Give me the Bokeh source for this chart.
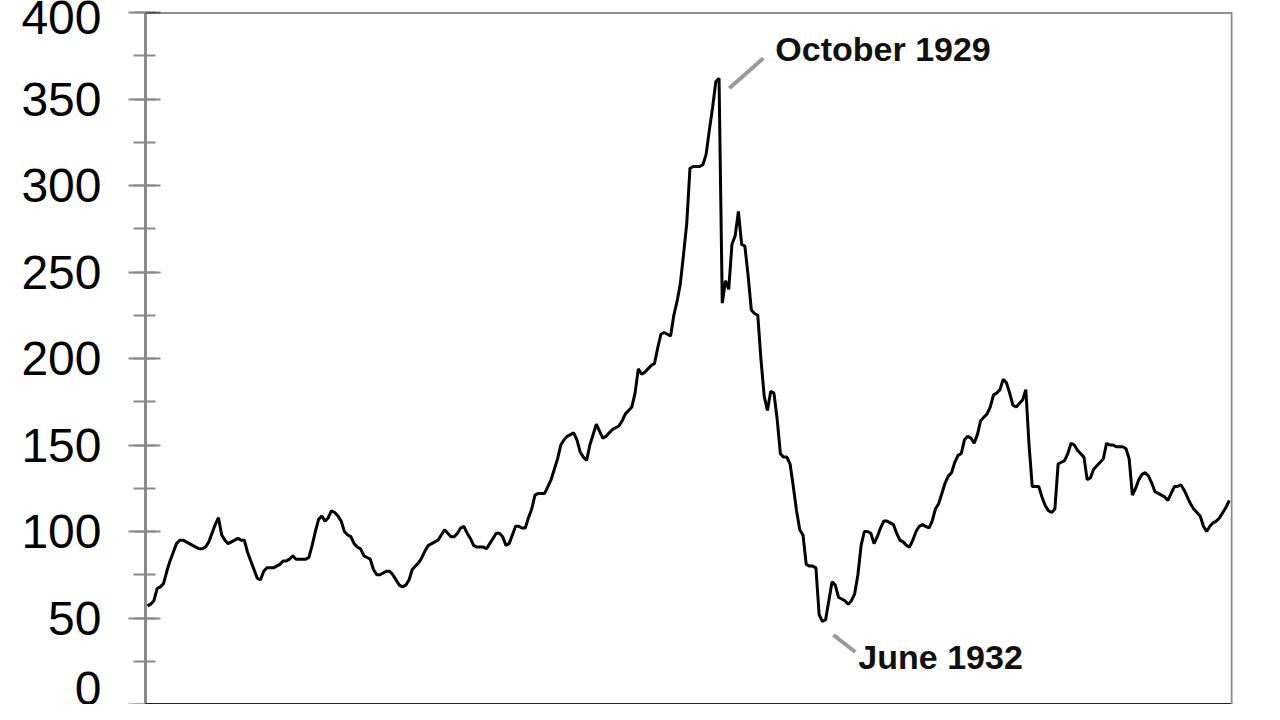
from bokeh.plotting import figure
from bokeh.models import Range1d, Span, SingleIntervalTicker, ColumnDataSource
from bokeh.core.properties import value
from bokeh.embed import file_html
from bokeh.resources import INLINE

# Monthly index values, January 1915 - December 1942
START_YEAR = 1915
y1915 = [57, 58, 60, 67, 68, 70, 77, 83, 88, 93, 95, 95]
y1916 = [94, 93, 92, 91, 90, 90, 91, 94, 99, 104, 108, 98]
y1917 = [95, 93, 94, 95, 96, 95, 95, 88, 83, 78, 73, 72]
y1918 = [77, 79, 79, 79, 80, 81, 83, 83, 84, 86, 84, 84]
y1919 = [84, 84, 85, 92, 100, 107, 109, 106, 108, 112, 111, 109]
y1920 = [106, 100, 98, 97, 93, 91, 90, 86, 85, 84, 78, 75]
y1921 = [75, 76, 77, 77, 75, 72, 69, 68, 69, 72, 78, 80]
y1922 = [82, 85, 89, 92, 93, 94, 95, 98, 101, 99, 97, 97]
y1923 = [99, 102, 103, 99, 96, 92, 91, 91, 91, 90, 93, 96]
y1924 = [99, 99, 97, 92, 93, 98, 103, 103, 102, 102, 108, 113]
y1925 = [121, 122, 122, 122, 126, 130, 136, 142, 150, 153, 155, 156]
y1926 = [157, 153, 146, 143, 141, 150, 156, 162, 158, 154, 155, 157]
y1927 = [159, 160, 161, 164, 168, 170, 172, 180, 194, 191, 192, 194]
y1928 = [196, 197, 206, 214, 215, 214, 213, 225, 233, 243, 260, 278]
y1929 = [310, 311, 311, 311, 312, 318, 332, 345, 360, 362, 232, 245]
y1930 = [240, 266, 271, 285, 266, 265, 248, 228, 226, 225, 199, 178]
y1931 = [170, 181, 180, 165, 145, 143, 143, 139, 126, 112, 101, 98]
y1932 = [81, 80, 80, 79, 52, 48, 49, 60, 71, 69, 62, 61]
y1933 = [60, 58, 60, 64, 75, 92, 100, 100, 99, 93, 97, 102]
y1934 = [106, 106, 105, 104, 99, 95, 94, 92, 91, 95, 100, 103]
y1935 = [104, 103, 102, 106, 113, 116, 122, 128, 132, 134, 140, 144]
y1936 = [145, 153, 155, 154, 151, 156, 164, 166, 168, 172, 179, 180]
y1937 = [182, 188, 186, 180, 173, 172, 174, 176, 182, 150, 126, 126]
y1938 = [126, 120, 115, 112, 111, 113, 139, 140, 141, 145, 151, 150]
y1939 = [147, 145, 143, 130, 131, 136, 138, 140, 142, 151, 150, 150]
y1940 = [149, 149, 149, 148, 142, 121, 125, 130, 133, 134, 132, 128]
y1941 = [123, 122, 121, 120, 118, 122, 126, 126, 127, 124, 120, 116]
y1942 = [113, 111, 109, 103, 100, 103, 105, 106, 108, 111, 114, 118]

yearly = [y1915, y1916, y1917, y1918, y1919, y1920, y1921, y1922, y1923, y1924,
          y1925, y1926, y1927, y1928, y1929, y1930, y1931, y1932, y1933, y1934,
          y1935, y1936, y1937, y1938, y1939, y1940, y1941, y1942]

# Annotations
ann_labels = ["October 1929", "June 1932"]
ann_year = [1929, 1932]
ann_month = [10, 6]

y_ticks_interval = 50
y_min, y_max = 0, 400

values = [v for yr in yearly for v in yr]
xs = [START_YEAR + i / 12 for i in range(len(values))]

W, H = 1264, 704
ML, MR, MT, MB = 145, 32, 12, 0
frame_w = W - ML - MR
frame_h = H - MT - MB
x0 = START_YEAR - 0.6 / 12
x1 = START_YEAR + 336 / 12
px_x = frame_w / (x1 - x0)
px_y = frame_h / (y_max - y_min)

p = figure(width=W, height=H, output_backend="svg", toolbar_location=None,
           x_range=Range1d(x0, x1), y_range=Range1d(y_min, y_max),
           x_axis_location=None,
           min_border_left=ML, min_border_right=MR,
           min_border_top=MT, min_border_bottom=MB)
p.outline_line_color = None
p.xgrid.visible = False
p.ygrid.visible = False
p.background_fill_color = "white"
p.border_fill_color = "white"

GRAY = "#8a8a8a"
ax = p.yaxis[0]
ax.ticker = SingleIntervalTicker(interval=y_ticks_interval, num_minor_ticks=2)
ax.axis_line_color = GRAY
ax.axis_line_width = 3
ax.major_tick_line_color = GRAY
ax.major_tick_line_width = 2
ax.minor_tick_line_color = GRAY
ax.minor_tick_line_width = 2
ax.major_tick_out = 17
ax.major_tick_in = 15
ax.minor_tick_out = 12
ax.minor_tick_in = 10
ax.major_label_text_font = "Liberation Sans"
ax.major_label_text_font_size = "48px"
ax.major_label_text_color = "black"
ax.major_label_standoff = 27

p.add_layout(Span(location=y_max, dimension="width", line_color="#222222", line_width=2))
p.add_layout(Span(location=y_min, dimension="width", line_color="#222222", line_width=3))
p.add_layout(Span(location=x1, dimension="height", line_color=GRAY, line_width=3.5))

p.line(xs, values, line_color="black", line_width=3)

# annotation leaders and labels, offsets in screen pixels from the anchor point
lead_start = [(10.3, -10.0), (11.0, -13.5)]
lead_end = [(44.3, 20.0), (33.0, -30.5)]
text_off = [(56.3, 29.0), (36.0, -35.5)]

ax_, ay_ = [], []
for yr, mo in zip(ann_year, ann_month):
    i = (yr - START_YEAR) * 12 + (mo - 1)
    ax_.append(xs[i])
    ay_.append(values[i])

seg = ColumnDataSource(dict(
    x0=[a + s[0] / px_x for a, s in zip(ax_, lead_start)],
    y0=[b + s[1] / px_y for b, s in zip(ay_, lead_start)],
    x1=[a + s[0] / px_x for a, s in zip(ax_, lead_end)],
    y1=[b + s[1] / px_y for b, s in zip(ay_, lead_end)],
))
p.segment(x0="x0", y0="y0", x1="x1", y1="y1", source=seg,
          line_color="#9a9a9a", line_width=4)

txt = ColumnDataSource(dict(
    x=[a + t[0] / px_x for a, t in zip(ax_, text_off)],
    y=[b + t[1] / px_y for b, t in zip(ay_, text_off)],
    label=ann_labels,
))
p.text(x="x", y="y", text="label", source=txt,
       text_font=value("Liberation Sans"), text_font_style="bold",
       text_font_size=value("34px"), text_color="#111111",
       text_align="left", text_baseline="middle")

open("out.html", "w").write(file_html(p, INLINE))
